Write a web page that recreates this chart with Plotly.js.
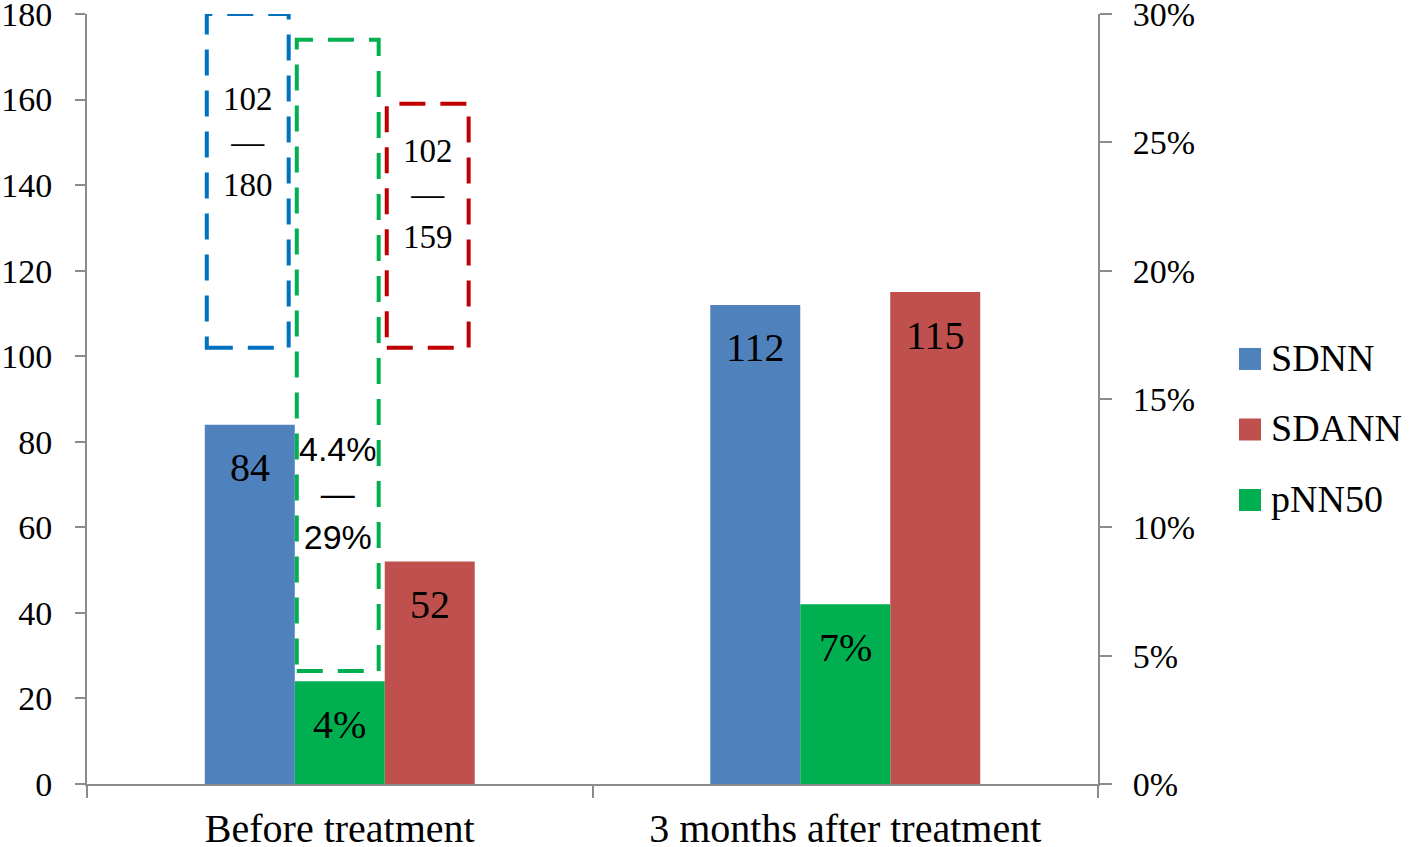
<!DOCTYPE html>
<html>
<head>
<meta charset="utf-8">
<script src="https://cdn.plot.ly/plotly-3.0.1.min.js"></script>
<style>
  html, body { margin: 0; padding: 0; background: #ffffff; }
  #chart { width: 1416px; height: 847px; }
</style>
</head>
<body>
<div id="chart"></div>
<script>
// ---- data ----
const categories = ['Before treatment', '3 months after treatment'];
const seriesNames = ['SDNN', 'SDANN', 'pNN50'];
const sdnnValues = [84, 112];
const sdannValues = [52, 115];
const pnn50Values = [0.04, 0.07];
// normal reference ranges (low, high), shown as dashed boxes over the first group
const sdnnRange = [102, 180];
const sdannRange = [102, 159];
const pnn50Range = [0.044, 0.29];
const leftTicks = [0, 20, 40, 60, 80, 100, 120, 140, 160, 180];
const rightTicks = [0, 0.05, 0.10, 0.15, 0.20, 0.25, 0.30];

// ---- styles ----
const SERIF = 'Liberation Serif, Times New Roman, serif';
const SANS = 'Liberation Sans, Arial, sans-serif';
const barColors = { SDNN: '#4F81BD', SDANN: '#C0504D', pNN50: '#00B050' };
const boxColors = { SDNN: '#0070C0', SDANN: '#C00000', pNN50: '#00B050' };
const axisGray = '#8C8C8C';

const BAR_W = 0.178;
const offsets = { SDNN: -0.267, pNN50: -0.089, SDANN: 0.089 };
const yAxisOf = { SDNN: 'y', SDANN: 'y', pNN50: 'y2' };

const valuesOf = { SDNN: sdnnValues, SDANN: sdannValues, pNN50: pnn50Values };
const rangeOf = { SDNN: sdnnRange, SDANN: sdannRange, pNN50: pnn50Range };
const fmtPct = v => parseFloat((v * 100).toFixed(1)) + '%';
const fmtOf = { SDNN: v => String(v), SDANN: v => String(v), pNN50: fmtPct };

const idx = categories.map((c, i) => i);

const traces = seriesNames.map(name => ({
  type: 'bar',
  name: name,
  x: categories,
  y: valuesOf[name],
  yaxis: yAxisOf[name],
  width: categories.map(() => BAR_W),
  offset: categories.map(() => offsets[name]),
  marker: { color: barColors[name], line: { width: 0 } },
  showlegend: false,
  hoverinfo: 'skip'
}));

const annotations = [];
const shapes = [];

// value labels inside top of bars
seriesNames.forEach(name => {
  valuesOf[name].forEach((v, i) => {
    annotations.push({
      x: idx[i] + offsets[name] + BAR_W / 2,
      xref: 'x',
      y: v,
      yref: yAxisOf[name],
      text: fmtOf[name](v),
      showarrow: false,
      yanchor: 'middle',
      xanchor: 'center',
      yshift: -43,
      font: { family: SERIF, size: 40, color: '#000000' }
    });
  });
});

// dashed normal-range boxes over the first group
const boxInsetL = 0.004, boxInsetR = 0.012;
const boxTextY = { SDNN: 150, SDANN: 138, pNN50: 68 }; // label centre (left-axis units)
const boxFont = { SDNN: SERIF, SDANN: SERIF, pNN50: SANS };
const boxFontSize = { SDNN: 33, SDANN: 33, pNN50: 34 };
seriesNames.forEach(name => {
  const r = rangeOf[name];
  const x0 = idx[0] + offsets[name] + boxInsetL;
  const x1 = idx[0] + offsets[name] + BAR_W - boxInsetR;
  shapes.push({
    type: 'rect', xref: 'x', yref: yAxisOf[name],
    x0: x0, x1: x1, y0: r[0], y1: r[1],
    line: { color: boxColors[name], width: 4, dash: '26px,15px' },
    fillcolor: 'rgba(0,0,0,0)',
    layer: 'above'
  });
  annotations.push({
    x: (x0 + x1) / 2, xref: 'x',
    y: boxTextY[name], yref: 'y',
    text: fmtOf[name](r[0]) + '<br>—<br>' + fmtOf[name](r[1]),
    showarrow: false, xanchor: 'center', yanchor: 'middle',
    font: { family: boxFont[name], size: boxFontSize[name], color: '#000000' }
  });
});

// legend (drawn manually to get the large square swatches)
const legendTop = 0.552, legendStep = 0.0916;
seriesNames.forEach((name, i) => {
  const yc = legendTop - i * legendStep;
  shapes.push({
    type: 'rect', xref: 'paper', yref: 'paper',
    xsizemode: 'pixel', ysizemode: 'pixel',
    xanchor: 1, yanchor: yc,
    x0: 141, x1: 163, y0: -11, y1: 11,
    fillcolor: barColors[name], line: { width: 0 }
  });
  annotations.push({
    xref: 'paper', yref: 'paper', x: 1, y: yc,
    xshift: 171, yshift: 1,
    xanchor: 'left', yanchor: 'middle',
    text: name, showarrow: false,
    font: { family: SERIF, size: 38, color: '#000000' }
  });
});

const layout = {
  width: 1416, height: 847,
  margin: { l: 87, r: 318, t: 14, b: 63, pad: 0 },
  paper_bgcolor: '#ffffff', plot_bgcolor: '#ffffff',
  barmode: 'overlay',
  showlegend: false,
  hovermode: false,
  font: { family: SERIF, color: '#000000' },
  xaxis: {
    type: 'category',
    range: [-0.5, 1.5],
    showline: true, linecolor: axisGray, linewidth: 2,
    ticks: 'outside', tickson: 'boundaries', ticklen: 12, tickwidth: 2, tickcolor: axisGray,
    showgrid: false, zeroline: false,
    tickfont: { family: SERIF, size: 40, color: '#000000' },
    ticklabelstandoff: 8,
    ticklabeloverflow: 'allow',
    automargin: false
  },
  yaxis: {
    range: [0, 180],
    tickvals: leftTicks,
    showline: true, linecolor: axisGray, linewidth: 2,
    ticks: 'outside', ticklen: 10, tickwidth: 2, tickcolor: axisGray,
    showgrid: false, zeroline: false,
    tickfont: { family: SERIF, size: 34, color: '#000000' },
    ticklabelstandoff: 16,
    ticklabeloverflow: 'allow',
    automargin: false
  },
  yaxis2: {
    overlaying: 'y', side: 'right',
    range: [0, 0.30],
    tickvals: rightTicks,
    tickformat: '.0%',
    showline: true, linecolor: axisGray, linewidth: 2,
    ticks: 'outside', ticklen: 12, tickwidth: 2, tickcolor: axisGray,
    showgrid: false, zeroline: false,
    tickfont: { family: SERIF, size: 34, color: '#000000' },
    ticklabelstandoff: 14,
    ticklabeloverflow: 'allow',
    automargin: false
  },
  shapes: shapes,
  annotations: annotations
};

Plotly.newPlot('chart', traces, layout, { staticPlot: true, displayModeBar: false });
</script>
</body>
</html>
